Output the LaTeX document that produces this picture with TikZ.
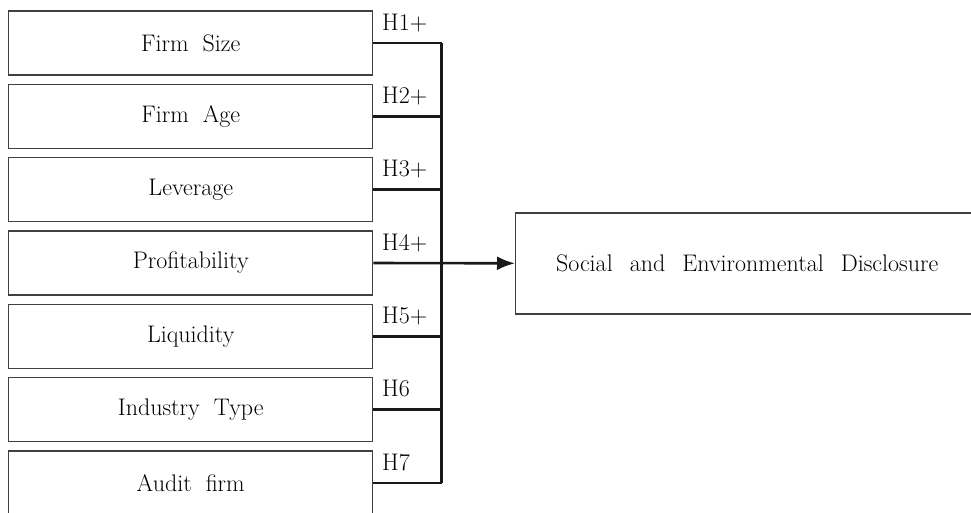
\documentclass[tikz,border=0pt]{standalone}
\usetikzlibrary{arrows.meta}
\tikzset{
	factor/.style={draw=black!75, line width=1.4pt, minimum width=364pt, minimum height=64pt, inner sep=0pt, font=\fontsize{24}{28}\selectfont},
	hyp/.style={anchor=base west, inner sep=0pt, font=\fontsize{24}{28}\selectfont},
	link/.style={line width=2.6pt, color=black!90}
}
\def\gap{\hspace{14pt}}
\def\widegap{\hspace{17pt}}
\begin{document}
\begin{tikzpicture}[x=1pt, y=-1pt]
			%%%%% START %%%%%
			\clip (0, 0) rectangle (971, 512);
			\useasboundingbox (0, 0) rectangle (971, 512);
			
			\node[factor] (size) at (190.75, 43) {Firm\gap Size};
			\node[factor] (age) at (190.75, 116.3) {Firm\gap Age};
			\node[factor] (lev) at (190.75, 189.7) {Leverage};
			\node[factor] (prof) at (190.75, 263) {Profitability};
			\node[factor] (liq) at (190.75, 336.3) {Liquidity};
			\node[factor] (ind) at (190.75, 409.7) {Industry\gap Type};
			\node[factor] (audit) at (190.75, 483) {Audit\gap firm};
			
			\node[factor, minimum width=463pt, minimum height=101pt, anchor=west] (sed) at (515, 263.3) {Social\widegap and\widegap Environmental\widegap Disclosure};
			
			\coordinate (bus) at (441.7, 0);
			
			\draw[link] (size.east) -- (size.east -| bus);
			\draw[link] (age.east) -- (age.east -| bus);
			\draw[link] (lev.east) -- (lev.east -| bus);
			\draw[link] (liq.east) -- (liq.east -| bus);
			\draw[link] (ind.east) -- (ind.east -| bus);
			\draw[link] (audit.east) -- (audit.east -| bus);
			\draw[link] (size.east -| bus) -- (audit.east -| bus);
			\draw[link, -{Latex[length=18pt, width=14pt]}] (prof.east) -- (sed.west);
			
			\node[hyp] (h1) at (382, 30) {H1+};
			\node[hyp] (h2) at (382, 103.3) {H2+};
			\node[hyp] (h3) at (382, 176.7) {H3+};
			\node[hyp] (h4) at (382, 250) {H4+};
			\node[hyp] (h5) at (382, 323.3) {H5+};
			\node[hyp] (h6) at (382, 396.7) {H6};
			\node[hyp] (h7) at (382, 470) {H7};
			
			%%%%% END %%%%%
\end{tikzpicture}
\end{document}
